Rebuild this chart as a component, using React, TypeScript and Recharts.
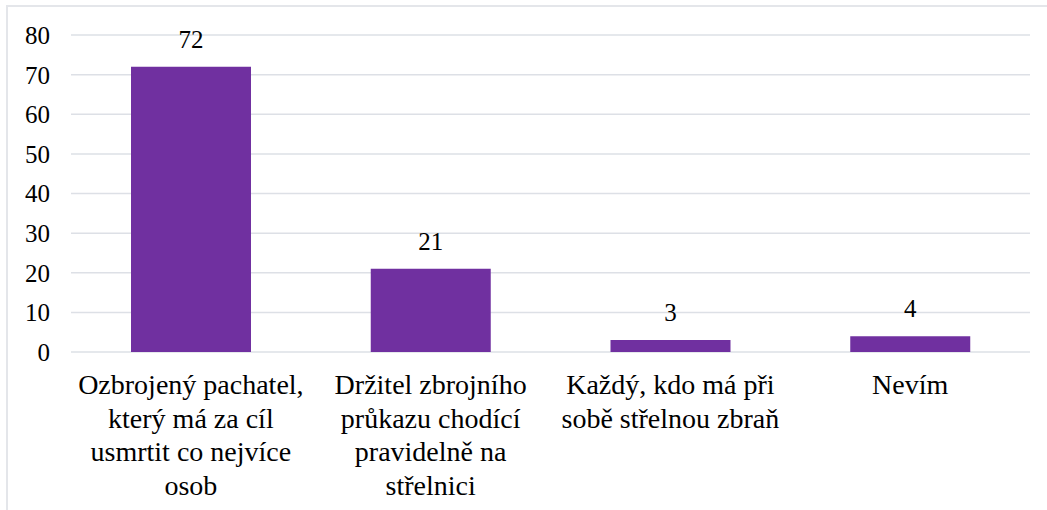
import { BarChart, Bar, XAxis, YAxis, CartesianGrid, LabelList } from "recharts";

const categories = [
  "Ozbrojený pachatel,\nkterý má za cíl\nusmrtit co nejvíce\nosob",
  "Držitel zbrojního\nprůkazu chodící\npravidelně na\nstřelnici",
  "Každý, kdo má při\nsobě střelnou zbraň",
  "Nevím",
];
const values = [72, 21, 3, 4];
const yTicks = [0, 10, 20, 30, 40, 50, 60, 70, 80];

const data = categories.map((name, i) => ({ name, value: values[i] }));

const FONT = "Liberation Serif";

// multi-line category label, one <text> per line
function CategoryTick(props: any) {
  const { x, y, payload } = props;
  const lines = String(payload.value).split("\n");
  return (
    <g>
      {lines.map((line, i) => (
        <text
          key={i}
          x={x}
          y={y + 34 + i * 33.5}
          textAnchor="middle"
          fontFamily={FONT}
          fontSize={28}
          fill="#000"
        >
          {line}
        </text>
      ))}
    </g>
  );
}

export default function App() {
  return (
    <div
      style={{
        position: "absolute",
        left: 0,
        top: 0,
        width: 1047,
        height: 510,
        overflow: "hidden",
        background: "#fff",
      }}
    >
      <div
        style={{
          position: "absolute",
          left: 6,
          top: 5,
          width: 1100,
          height: 600,
          border: "2px solid #E4E6EA",
        }}
      />
      <div style={{ position: "absolute", left: 0, top: 0 }}>
        <BarChart
          width={1047}
          height={510}
          data={data}
          margin={{ top: 35, right: 17, left: 0, bottom: 0 }}
          barSize={120}
        >
          <CartesianGrid vertical={false} stroke="#DDE0E6" strokeWidth={1.5} />
          <XAxis
            dataKey="name"
            height={158}
            axisLine={false}
            tickLine={false}
            interval={0}
            tick={CategoryTick}
          />
          <YAxis
            width={71}
            domain={[0, 80]}
            ticks={yTicks}
            axisLine={false}
            tickLine={false}
            tickSize={8}
            tickMargin={13}
            tick={{ fontFamily: FONT, fontSize: 25, fill: "#000" }}
          />
          <Bar dataKey="value" fill="#7030A0" isAnimationActive={false}>
            <LabelList
              dataKey="value"
              position="top"
              offset={19}
              fill="#000"
              fontSize={25}
              fontFamily={FONT}
            />
          </Bar>
        </BarChart>
      </div>
    </div>
  );
}
